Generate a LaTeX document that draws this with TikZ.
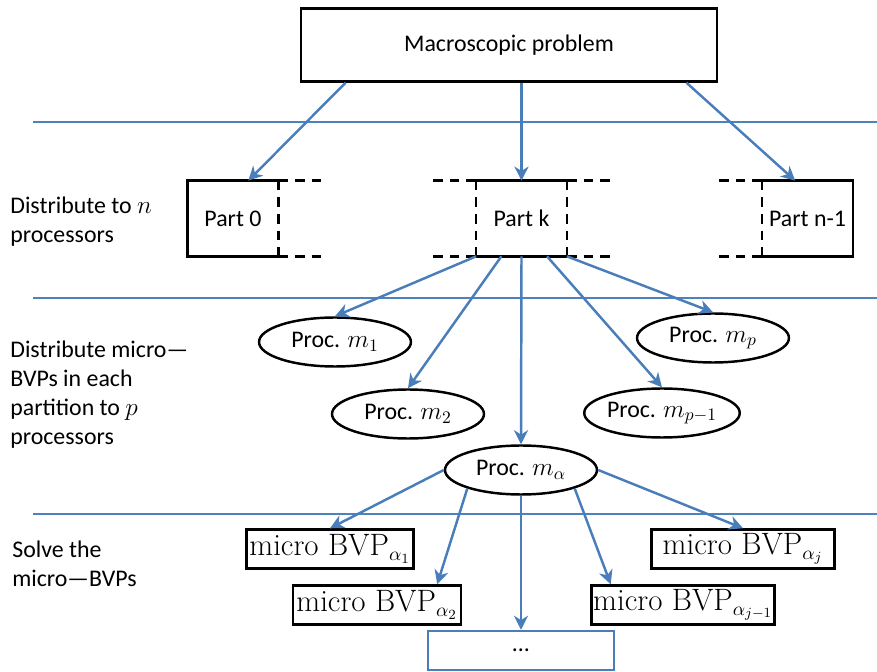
\documentclass[tikz,border=0pt]{standalone}
\usepackage[no-math]{fontspec}
\setmainfont{Carlito}[Scale=0.97]
\newfontfamily\msSerif{Latin Modern Roman}[Scale=1.1]
\usepackage{tikz}
\usetikzlibrary{arrows.meta,shapes.geometric}
\definecolor{msBlue}{HTML}{4A7EBB}
\definecolor{msRule}{HTML}{4F81BD}
\tikzset{
  ms diagram/.style={x=0.02cm, y=-0.02cm, font=\fontsize{14}{16.5}\selectfont},
  ms box/.style={draw=black, line width=1.4pt, inner sep=0pt, minimum height=0.78cm},
  ms bvp/.style={ms box, font=\fontsize{16}{18}\selectfont},
  ms dots box/.style={ms box, draw=msBlue},
  ms proc/.style={ellipse, draw=black, line width=1.4pt, inner sep=0pt,
    minimum width=3.04cm, minimum height=0.98cm},
  ms part/.style={inner sep=0pt, minimum width=1.8cm, minimum height=1.5cm},
  ms solid/.style={draw=black, line width=1.4pt},
  ms dashed/.style={ms solid, dash pattern=on 5.5pt off 4pt},
  ms arrow/.style={-{Stealth[length=8pt,width=8pt,inset=2.5pt]}, draw=msBlue, line width=1.4pt},
  ms rule/.style={draw=msRule, line width=0.6pt},
  ms label/.style={anchor=west, align=left, inner sep=0pt}
}

\begin{document}
\begin{tikzpicture}[ms diagram]
\useasboundingbox (0,0) rectangle (877,672);

\draw[ms rule] (33,122) -- (877,122);
\draw[ms rule] (33,298) -- (877,298);
\draw[ms rule] (33,514) -- (877,514);

\node[ms box,minimum width=8.32cm,minimum height=1.46cm] (macro) at (509,45) {Macroscopic problem};

\node[ms part] (part0) at (233,218.5) {Part 0};
\node[ms part] (partk) at (521.5,218.5) {Part k};
\node[ms part] (partn) at (807.5,218.5) {Part n-1};
\draw[ms solid] (part0.north east) -- (part0.north west) -- (part0.south west) -- (part0.south east);
\draw[ms dashed] (part0.north east) -- (part0.south east);
\draw[ms dashed] (part0.north east) -- ++(47,0);
\draw[ms dashed] (part0.south east) -- ++(47,0);
\draw[ms solid] (partk.north west) -- (partk.north east);
\draw[ms solid] (partk.south west) -- (partk.south east);
\draw[ms dashed] (partk.north west) -- (partk.south west);
\draw[ms dashed] (partk.north east) -- (partk.south east);
\draw[ms dashed] (partk.north west) -- ++(-45,0);
\draw[ms dashed] (partk.south west) -- ++(-45,0);
\draw[ms dashed] (partk.north east) -- ++(46,0);
\draw[ms dashed] (partk.south east) -- ++(46,0);
\draw[ms solid] (partn.north west) -- (partn.north east) -- (partn.south east) -- (partn.south west);
\draw[ms dashed] (partn.north west) -- (partn.south west);
\draw[ms dashed] (partn.north west) -- ++(-45,0);
\draw[ms dashed] (partn.south west) -- ++(-45,0);

\node[ms proc] (m1) at (335,342) {Proc. $m_1$};
\node[ms proc] (m2) at (408,414) {Proc. $m_2$};
\node[ms proc] (malpha) at (521,470) {Proc. $m_\alpha$};
\node[ms proc] (mpm) at (662,413) {Proc. $m_{p-1}$};
\node[ms proc] (mp) at (713,338) {Proc. $m_p$};

\node[ms bvp,minimum width=3.34cm] (bvpa) at (330,549) {{\msSerif micro BVP}$_{\alpha_1}$};
\node[ms bvp,minimum width=3.36cm] (bvpb) at (377,605) {{\msSerif micro BVP}$_{\alpha_2}$};
\node[ms dots box,minimum width=3.72cm] (dots) at (521,650.5) {...};
\node[ms bvp,minimum width=3.66cm] (bvpjm) at (683,605) {{\msSerif micro BVP}$_{\alpha_{j-1}}$};
\node[ms bvp,minimum width=3.66cm] (bvpj) at (743,549) {{\msSerif micro BVP}$_{\alpha_j}$};

\draw[ms arrow] (macro.193.6) -- (part0.68);
\draw[ms arrow] (macro.south -| partk.north) -- (partk.north);
\draw[ms arrow] (macro.348) -- (partn.108);

\draw[ms arrow] (partk.south west) -- (m1.north);
\draw[ms arrow] (partk.242) -- (m2.north);
\draw[ms arrow] (partk.south) -- (malpha.north);
\draw[ms arrow] (partk.304) -- (mpm.north);
\draw[ms arrow] (partk.south east) -- (mp.north);

\draw[ms arrow] (malpha.west) -- (bvpa.north);
\draw[ms arrow] (malpha.199) -- (bvpb.19);
\draw[ms arrow] (malpha.south) -- (dots.north);
\draw[ms arrow] (malpha.341.6) -- (bvpjm.164);
\draw[ms arrow] (malpha.east) -- (bvpj.north);

\node[ms label] (lbln) at (10,221.5) {Distribute to $n$\\processors};
\node[ms label] (lblp) at (10,394.5) {Distribute micro---\\BVPs in each\\partition to $p$\\processors};
\node[ms label] (lblsolve) at (12,563.5) {Solve the\\micro---BVPs};
\end{tikzpicture}
\end{document}
